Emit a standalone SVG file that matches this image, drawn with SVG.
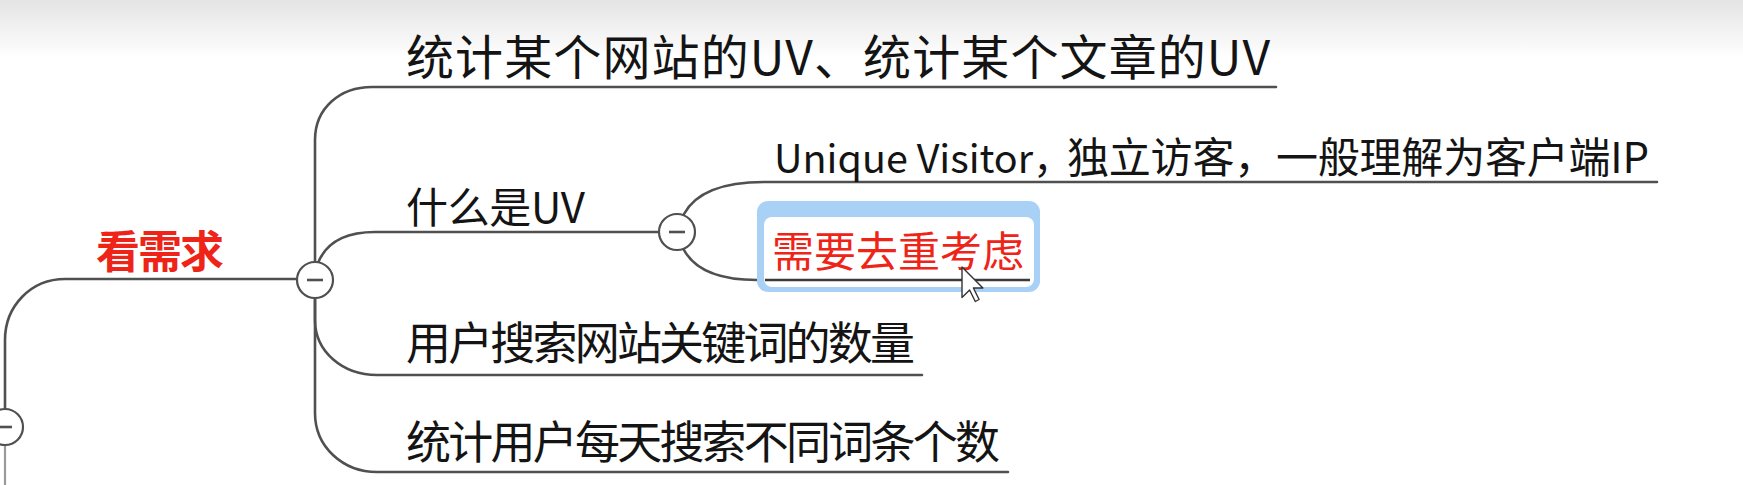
<svg xmlns="http://www.w3.org/2000/svg" width="1743" height="485" viewBox="0 0 1743 485">
<defs>
<linearGradient id="topband" x1="0" y1="0" x2="0" y2="1">
<stop offset="0" stop-color="#e4e4e4"/>
<stop offset="1" stop-color="#ffffff"/>
</linearGradient>
<style>
.ln{fill:none;stroke:#505050;stroke-width:2.6;stroke-linecap:round}
.cir{fill:#ffffff;stroke:#505050;stroke-width:2.2}
.minus{stroke:#505050;stroke-width:2.6}
.t{font-family:"Noto Sans CJK SC","Noto Sans",sans-serif;fill:#141414}
.red{fill:#ee2418}
</style>
</defs>
<rect x="0" y="0" width="1743" height="485" fill="#ffffff"/>
<rect x="0" y="0" width="1743" height="58" fill="url(#topband)"/>

<g id="connectors">
<path class="ln" d="M5 409 V340 C5 306 31 279 65 279 H297"/>
<path d="M5 445 V485" fill="none" stroke="#9a9a9a" stroke-width="2.2"/>
<path class="ln" d="M315 262 V140 C315 108 340 87 372 87 H1276"/>
<path class="ln" d="M318 263 C326 243 345 232 375 232 H659"/>
<path class="ln" d="M315 298 V320 C315 352 343 375 377 375 H922"/>
<path class="ln" d="M315 298 V413 C315 447 343 472 377 472 H1008"/>
<path class="ln" d="M684 214 C696 192 722 182 764 182 H1657"/>
<path class="ln" d="M684 250 C696 272 722 280 757 280"/>
</g>

<g id="node-root-collapse">
<circle class="cir" cx="5" cy="427" r="18"/>
<line class="minus" x1="-3" y1="427" x2="12" y2="427"/>
</g>

<g id="node-kanxuqiu">
<text class="t red" x="96" y="268" font-size="44" font-weight="bold" textLength="128">看需求</text>
<circle class="cir" cx="315" cy="280" r="18"/>
<line class="minus" x1="307" y1="280" x2="323" y2="280"/>
</g>

<g id="node-tongji-uv">
<text class="t" x="406" y="75" font-size="48" textLength="864">统计某个网站的UV、统计某个文章的UV</text>
</g>

<g id="node-what-uv">
<text class="t" x="406" y="223" font-size="42" textLength="179">什么是UV</text>
<circle class="cir" cx="677" cy="232" r="18"/>
<line class="minus" x1="669" y1="232" x2="685" y2="232"/>
</g>

<g id="node-unique-visitor">
<text class="t" x="774" y="173" font-size="42"><tspan x="774" font-size="39.5">Unique Visitor，</tspan><tspan x="1067" textLength="582">独立访客，一般理解为客户端IP</tspan></text>
</g>

<g id="node-dedup">
<rect x="757" y="201" width="283" height="91" rx="11" fill="#a9d1f6"/>
<rect x="764" y="217" width="270" height="70" rx="8" fill="#ffffff"/>
<line x1="765" y1="280" x2="1030" y2="280" stroke="#3a3a3a" stroke-width="2.6"/>
<text class="t red" x="772" y="267" font-size="42" textLength="252">需要去重考虑</text>
<polygon points="962,267 962,297.5 969.6,290 975.3,301.5 979.1,299.5 973.4,288 982.9,288" fill="#ffffff" stroke="#333333" stroke-width="1.4" stroke-linejoin="round"/>
</g>

<g id="node-search-count">
<text class="t" x="406" y="360" font-size="45" textLength="509">用户搜索网站关键词的数量</text>
</g>

<g id="node-daily-words">
<text class="t" x="406" y="459" font-size="45" textLength="594">统计用户每天搜索不同词条个数</text>
</g>
</svg>
